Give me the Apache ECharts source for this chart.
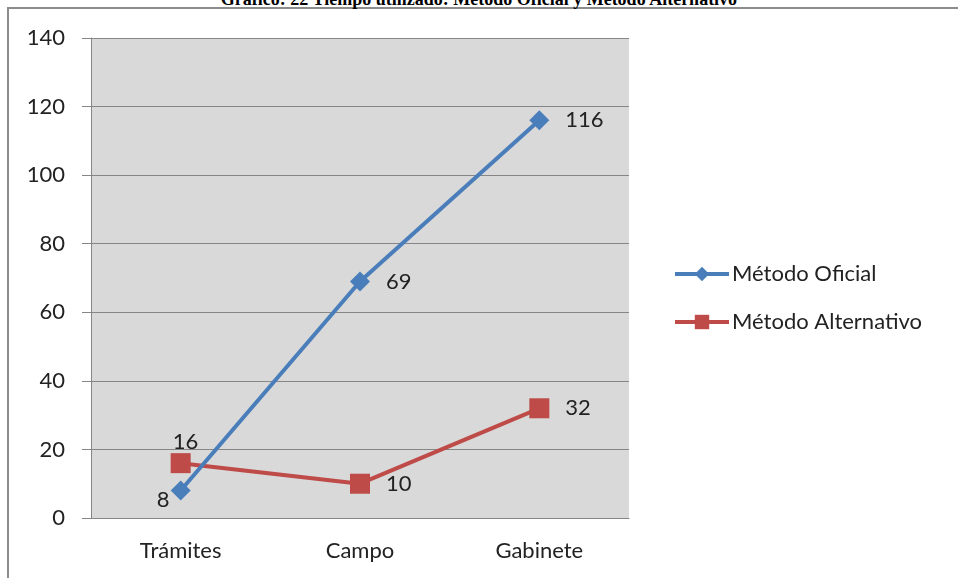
<!DOCTYPE html>
<html>
<head>
<meta charset="utf-8">
<script src="https://cdn.jsdelivr.net/npm/echarts@6/dist/echarts.min.js"></script>
<style>
  html, body { margin: 0; padding: 0; background: #fff; }
  #frame { position: absolute; left: 7px; top: 7px; width: 960px; height: 580px;
           border-left: 2px solid #8c8c8c; border-top: 2px solid #8c8c8c; }
  #title { position: absolute; left: 0; top: -11px; width: 958px; text-align: center;
           font: bold 18px "Liberation Serif", "DejaVu Serif", serif; color: #000; }
  #chart { position: absolute; left: 0; top: 0; width: 958px; height: 578px; }
</style>
</head>
<body>
<div id="frame"></div>
<div id="title">Gráfico: 22 Tiempo utilizado: Método Oficial y Método Alternativo</div>
<div id="chart"></div>
<script>
const categories = ['Trámites', 'Campo', 'Gabinete'];
const oficial = [8, 69, 116];
const alternativo = [16, 10, 32];
const seriesNames = ['Método Oficial', 'Método Alternativo'];

const font = 'Lato, "Open Sans", sans-serif';
const chart = echarts.init(document.getElementById('chart'));

chart.setOption({
  animation: false,
  grid: { left: 91, right: 329, top: 38, bottom: 60, show: true, backgroundColor: '#d9d9d9', borderWidth: 0 },
  legend: {
    orient: 'vertical',
    left: 668,
    top: 258,
    itemGap: 26,
    itemWidth: 54,
    itemHeight: 18,
    itemStyle: { borderWidth: 0 },
    lineStyle: { width: 4 },
    textStyle: { fontFamily: font, fontSize: 22, color: '#222', padding: [0, 0, 0, -2] },
    data: seriesNames
  },
  xAxis: {
    type: 'category',
    data: categories,
    boundaryGap: true,
    axisLine: { lineStyle: { color: '#868686', width: 1 } },
    axisTick: { length: 9, lineStyle: { color: '#868686' } },
    axisLabel: { fontFamily: font, fontSize: 22, color: '#222', margin: 22 }
  },
  yAxis: {
    type: 'value',
    min: 0,
    max: 140,
    interval: 20,
    axisLine: { show: true, lineStyle: { color: '#868686', width: 1 } },
    axisTick: { show: true, length: 9, lineStyle: { color: '#868686' } },
    axisLabel: { fontFamily: font, fontSize: 22, color: '#222', margin: 26 },
    splitLine: { lineStyle: { color: '#868686', width: 1 } }
  },
  series: [
    {
      name: seriesNames[0],
      type: 'line',
      data: oficial,
      symbol: 'diamond',
      symbolSize: 20,
      itemStyle: { color: '#4a7ebb' },
      lineStyle: { color: '#4a7ebb', width: 4 },
      label: {
        show: true,
        position: 'right',
        distance: 16,
        fontFamily: font, fontSize: 22, color: '#222'
      },
      labelLayout: function (p) {
        if (p.dataIndex === 0) {
          return { x: p.rect.x - 14, y: p.rect.y + 8 };
        }
      },
      z: 3
    },
    {
      name: seriesNames[1],
      type: 'line',
      data: alternativo,
      symbol: 'rect',
      symbolSize: 20,
      itemStyle: { color: '#be4b48' },
      lineStyle: { color: '#be4b48', width: 4 },
      label: {
        show: true,
        position: 'right',
        distance: 16,
        fontFamily: font, fontSize: 22, color: '#222'
      },
      labelLayout: function (p) {
        if (p.dataIndex === 0) {
          return { x: p.rect.x + 2, y: p.rect.y - 22 };
        }
      },
      z: 2
    }
  ]
});
</script>
</body>
</html>
